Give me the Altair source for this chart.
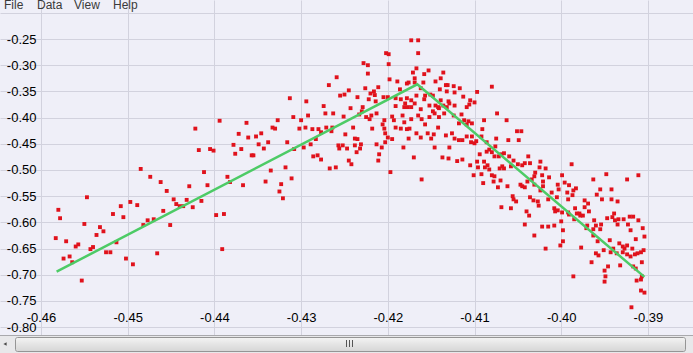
import altair as alt
import pandas as pd

# ---- data ----
samples_left = [
    (-0.4580, -0.576), (-0.4578, -0.592), (-0.4583, -0.630), (-0.4571, -0.636), (-0.4574, -0.669),
    (-0.4567, -0.665), (-0.4564, -0.676), (-0.4560, -0.646), (-0.4557, -0.642), (-0.4550, -0.603),
    (-0.4553, -0.711), (-0.4543, -0.651), (-0.4540, -0.647), (-0.4536, -0.624), (-0.4532, -0.609),
    (-0.4528, -0.617), (-0.4525, -0.657), (-0.4520, -0.657), (-0.4513, -0.638), (-0.4517, -0.584),
    (-0.4508, -0.569), (-0.4505, -0.590), (-0.4497, -0.561), (-0.4489, -0.567), (-0.4502, -0.669),
    (-0.4494, -0.680), (-0.4482, -0.605), (-0.4477, -0.596), (-0.4470, -0.594), (-0.4466, -0.659),
    (-0.4459, -0.578), (-0.4451, -0.605), (-0.4447, -0.556), (-0.4444, -0.565), (-0.4440, -0.569),
    (-0.4436, -0.569), (-0.4432, -0.557), (-0.4425, -0.571), (-0.4415, -0.559), (-0.4398, -0.586),
    (-0.4389, -0.584), (-0.4391, -0.651),
    (-0.4547, -0.552), (-0.4485, -0.498), (-0.4474, -0.513), (-0.4462, -0.523), (-0.4455, -0.540),
    (-0.4429, -0.531), (-0.4412, -0.504), (-0.4408, -0.529), (-0.4422, -0.421), (-0.4418, -0.462),
    (-0.4405, -0.460), (-0.4401, -0.463), (-0.4394, -0.406), (-0.4385, -0.513), (-0.4382, -0.523),
    (-0.4378, -0.452), (-0.4376, -0.469), (-0.4372, -0.431), (-0.4369, -0.460), (-0.4363, -0.410),
    (-0.4361, -0.438), (-0.4367, -0.529),
]

samples_mid = [
    (-0.4173, -0.2525), (-0.4165, -0.2525), (-0.4165, -0.277), (-0.4202, -0.277), (-0.4199, -0.279),
    (-0.4199, -0.298), (-0.4228, -0.296), (-0.4223, -0.300), (-0.4223, -0.316), (-0.4259, -0.323),
    (-0.4268, -0.338), (-0.4313, -0.363), (-0.4294, -0.369), (-0.4274, -0.378), (-0.4272, -0.392),
    (-0.4263, -0.392), (-0.4255, -0.358), (-0.4250, -0.356), (-0.4245, -0.348), (-0.4235, -0.361),
    (-0.4243, -0.382), (-0.4251, -0.398), (-0.4229, -0.380), (-0.4230, -0.388), (-0.4226, -0.344),
    (-0.4220, -0.354), (-0.4216, -0.350), (-0.4215, -0.357), (-0.4222, -0.365), (-0.4214, -0.369),
    (-0.4211, -0.342), (-0.4205, -0.361), (-0.4200, -0.361), (-0.4198, -0.327), (-0.4189, -0.331),
    (-0.4186, -0.346), (-0.4178, -0.335), (-0.4176, -0.333), (-0.4171, -0.314), (-0.4167, -0.306),
    (-0.4169, -0.325), (-0.4169, -0.333), (-0.4158, -0.317), (-0.4153, -0.310), (-0.4159, -0.333),
    (-0.4162, -0.344), (-0.4145, -0.331), (-0.4139, -0.325), (-0.4136, -0.314), (-0.4140, -0.346),
    (-0.4133, -0.338), (-0.4131, -0.338), (-0.4132, -0.350), (-0.4124, -0.340), (-0.4117, -0.344),
    (-0.4123, -0.352), (-0.4151, -0.356), (-0.4148, -0.358), (-0.4158, -0.365), (-0.4157, -0.358),
    (-0.4167, -0.358), (-0.4178, -0.363), (-0.4185, -0.365), (-0.4191, -0.363), (-0.4173, -0.367),
    (-0.4169, -0.373), (-0.4180, -0.373), (-0.4191, -0.378), (-0.4181, -0.380), (-0.4177, -0.380),
    (-0.4173, -0.380), (-0.4162, -0.384), (-0.4165, -0.396), (-0.4152, -0.377), (-0.4148, -0.388),
    (-0.4145, -0.377), (-0.4142, -0.380), (-0.4141, -0.382), (-0.4136, -0.377), (-0.4139, -0.367),
    (-0.4130, -0.369), (-0.4129, -0.373), (-0.4132, -0.380), (-0.4123, -0.377), (-0.4124, -0.396),
    (-0.4135, -0.392), (-0.4141, -0.399), (-0.4146, -0.392), (-0.4152, -0.399), (-0.4161, -0.403),
    (-0.4173, -0.403), (-0.4181, -0.409), (-0.4183, -0.396), (-0.4193, -0.405), (-0.4195, -0.398),
    (-0.4204, -0.405), (-0.4206, -0.413), (-0.4219, -0.396), (-0.4225, -0.399), (-0.4221, -0.403),
    (-0.4213, -0.392), (-0.4240, -0.419), (-0.4218, -0.421), (-0.4204, -0.421), (-0.4191, -0.419),
    (-0.4185, -0.421), (-0.4178, -0.422), (-0.4175, -0.421), (-0.4157, -0.413), (-0.4142, -0.419),
    (-0.4154, -0.430), (-0.4147, -0.432), (-0.4150, -0.440), (-0.4133, -0.434), (-0.4126, -0.430),
    (-0.4123, -0.440), (-0.4118, -0.443), (-0.4118, -0.411), (-0.4203, -0.430), (-0.4200, -0.438),
    (-0.4195, -0.441), (-0.4176, -0.440), (-0.4167, -0.430), (-0.4162, -0.438), (-0.4182, -0.457),
    (-0.4203, -0.447), (-0.4207, -0.457), (-0.4213, -0.451), (-0.4210, -0.470), (-0.4211, -0.482),
    (-0.4197, -0.504), (-0.4170, -0.476), (-0.4146, -0.457), (-0.4137, -0.476), (-0.4130, -0.478),
    (-0.4129, -0.457), (-0.4120, -0.483), (-0.4233, -0.394),
    (-0.4327, -0.405), (-0.4309, -0.399), (-0.4300, -0.405), (-0.4292, -0.396), (-0.4333, -0.419),
    (-0.4330, -0.421), (-0.4352, -0.436), (-0.4346, -0.430), (-0.4349, -0.451), (-0.4343, -0.459),
    (-0.4338, -0.447), (-0.4357, -0.472), (-0.4355, -0.472), (-0.4316, -0.447), (-0.4308, -0.460),
    (-0.4302, -0.421), (-0.4295, -0.419), (-0.4287, -0.422), (-0.4280, -0.422), (-0.4277, -0.428),
    (-0.4271, -0.419), (-0.4264, -0.419), (-0.4265, -0.426), (-0.4283, -0.441), (-0.4289, -0.451),
    (-0.4297, -0.457), (-0.4286, -0.474), (-0.4281, -0.472), (-0.4277, -0.480), (-0.4257, -0.453),
    (-0.4256, -0.459), (-0.4252, -0.453), (-0.4247, -0.459), (-0.4238, -0.440), (-0.4235, -0.441),
    (-0.4238, -0.453), (-0.4231, -0.451), (-0.4232, -0.459), (-0.4236, -0.466), (-0.4249, -0.432),
    (-0.4245, -0.482), (-0.4242, -0.489), (-0.4267, -0.497), (-0.4260, -0.495), (-0.4318, -0.495),
    (-0.4335, -0.501),
    (-0.4341, -0.522), (-0.4323, -0.527), (-0.4311, -0.516), (-0.4325, -0.541), (-0.4321, -0.554),
    (-0.4161, -0.518),
    (-0.4113, -0.360), (-0.4097, -0.351), (-0.4080, -0.341),
]

samples_right = [
    (-0.4105, -0.367), (-0.4100, -0.371), (-0.4106, -0.375), (-0.4109, -0.380), (-0.4115, -0.394),
    (-0.4074, -0.392), (-0.4089, -0.405), (-0.4063, -0.405), (-0.4112, -0.405), (-0.4107, -0.407),
    (-0.4103, -0.411), (-0.4109, -0.413), (-0.4091, -0.422), (-0.4051, -0.426), (-0.4046, -0.426),
    (-0.4049, -0.443), (-0.4061, -0.443), (-0.4075, -0.440), (-0.4092, -0.436), (-0.4103, -0.436),
    (-0.4109, -0.436), (-0.4114, -0.443), (-0.4104, -0.447), (-0.4100, -0.449), (-0.4098, -0.445),
    (-0.4086, -0.447), (-0.4076, -0.455), (-0.4094, -0.470), (-0.4086, -0.465), (-0.4083, -0.461),
    (-0.4080, -0.466), (-0.4077, -0.474), (-0.4072, -0.474), (-0.4069, -0.470), (-0.4066, -0.468),
    (-0.4060, -0.474), (-0.4055, -0.482), (-0.4114, -0.480), (-0.4105, -0.491), (-0.4097, -0.484),
    (-0.4089, -0.484), (-0.4085, -0.491), (-0.4088, -0.495), (-0.4096, -0.495), (-0.4083, -0.499),
    (-0.4071, -0.497), (-0.4068, -0.493), (-0.4066, -0.497), (-0.4058, -0.493), (-0.4050, -0.489),
    (-0.4045, -0.491), (-0.4042, -0.487), (-0.4036, -0.487), (-0.4038, -0.474), (-0.4024, -0.484),
    (-0.4025, -0.495), (-0.4018, -0.497), (-0.4030, -0.505), (-0.3988, -0.489), (-0.4101, -0.510),
    (-0.4092, -0.508), (-0.4080, -0.510), (-0.4077, -0.512), (-0.4070, -0.520), (-0.4078, -0.522),
    (-0.4090, -0.525), (-0.4073, -0.533), (-0.4062, -0.531), (-0.4047, -0.528), (-0.4045, -0.531),
    (-0.4042, -0.533), (-0.4039, -0.522), (-0.4034, -0.518), (-0.4031, -0.512), (-0.4022, -0.510),
    (-0.4014, -0.514), (-0.4021, -0.522), (-0.4031, -0.528), (-0.4021, -0.531), (-0.4024, -0.539),
    (-0.4004, -0.528), (-0.3999, -0.510), (-0.3996, -0.524), (-0.4003, -0.537), (-0.3991, -0.529),
    (-0.3986, -0.539), (-0.3983, -0.535), (-0.3993, -0.543), (-0.3987, -0.548), (-0.4011, -0.543),
    (-0.4005, -0.552), (-0.4015, -0.556), (-0.4027, -0.560), (-0.4032, -0.558), (-0.4036, -0.552),
    (-0.4026, -0.568), (-0.4056, -0.550), (-0.4055, -0.556), (-0.4052, -0.560), (-0.4058, -0.573),
    (-0.4069, -0.571), (-0.4008, -0.573), (-0.3992, -0.556), (-0.3984, -0.573), (-0.3973, -0.558),
    (-0.3969, -0.564), (-0.3973, -0.571), (-0.3963, -0.518), (-0.3955, -0.537), (-0.3959, -0.547),
    (-0.3953, -0.556), (-0.3948, -0.508), (-0.3942, -0.537), (-0.3942, -0.556), (-0.3935, -0.560),
    (-0.3924, -0.518), (-0.3911, -0.510),
    (-0.4040, -0.579), (-0.4037, -0.587), (-0.4042, -0.604), (-0.4007, -0.579), (-0.4004, -0.577),
    (-0.3999, -0.581), (-0.3992, -0.581), (-0.3991, -0.585), (-0.3982, -0.583), (-0.3979, -0.583),
    (-0.3978, -0.587), (-0.3975, -0.587), (-0.3968, -0.579), (-0.4000, -0.598), (-0.3985, -0.594),
    (-0.4022, -0.608), (-0.4015, -0.608), (-0.4008, -0.606), (-0.4031, -0.625), (-0.3998, -0.615),
    (-0.3998, -0.636), (-0.4001, -0.644), (-0.4018, -0.650), (-0.3977, -0.648), (-0.3970, -0.606),
    (-0.3971, -0.611), (-0.3962, -0.596), (-0.3960, -0.606), (-0.3954, -0.604), (-0.3963, -0.613),
    (-0.3955, -0.613), (-0.3963, -0.625), (-0.3947, -0.592), (-0.3941, -0.590), (-0.3939, -0.583),
    (-0.3938, -0.596), (-0.3934, -0.594), (-0.3928, -0.594), (-0.3935, -0.604), (-0.3923, -0.604),
    (-0.3921, -0.589), (-0.3917, -0.589), (-0.3911, -0.596), (-0.3920, -0.615), (-0.3906, -0.611),
    (-0.3904, -0.627), (-0.3914, -0.632), (-0.3958, -0.636), (-0.3944, -0.634), (-0.3951, -0.653),
    (-0.3960, -0.659), (-0.3957, -0.663), (-0.3943, -0.657), (-0.3940, -0.650), (-0.3936, -0.659),
    (-0.3933, -0.640), (-0.3929, -0.646), (-0.3927, -0.650), (-0.3924, -0.644), (-0.3929, -0.657),
    (-0.3924, -0.661), (-0.3920, -0.665), (-0.3918, -0.650), (-0.3915, -0.661), (-0.3912, -0.659),
    (-0.3908, -0.657), (-0.3905, -0.653), (-0.3907, -0.676), (-0.3965, -0.676), (-0.3946, -0.684),
    (-0.3932, -0.682), (-0.3917, -0.684), (-0.3914, -0.688), (-0.3950, -0.692), (-0.3949, -0.703),
    (-0.3950, -0.713), (-0.3986, -0.703), (-0.3913, -0.711), (-0.3908, -0.709), (-0.3907, -0.703),
    (-0.3908, -0.730), (-0.3904, -0.734), (-0.3919, -0.762),
]

fit_x = [-0.4582, -0.4166, -0.3904]
fit_y = [-0.694, -0.3365, -0.704]

x_ticks = [-0.46, -0.45, -0.44, -0.43, -0.42, -0.41, -0.40, -0.39]
y_ticks = [-0.20, -0.25, -0.30, -0.35, -0.40, -0.45, -0.50, -0.55,
           -0.60, -0.65, -0.70, -0.75, -0.80]
menu_items = ["File", "Data", "View", "Help"]

# ---- layout / style ----
W, H = 693, 353
X_DOMAIN = [-0.46473, -0.38480]
Y_DOMAIN = [-0.84924, -0.17557]
BG = "#EFEFF8"
GRID = "#D2D2DE"
FONT = "Liberation Sans"

pts = pd.DataFrame(samples_left + samples_mid + samples_right, columns=["x", "y"])
fit = pd.DataFrame({"x": fit_x, "y": fit_y})

label_expr = "datum.value > -0.22 ? '' : '-' + format(abs(datum.value), '.2f')"

x_enc = alt.X(
    "x:Q",
    scale=alt.Scale(domain=X_DOMAIN, nice=False, zero=False),
    axis=alt.Axis(values=x_ticks, labelExpr=label_expr, title=None, domain=False,
                  ticks=False, tickSize=0, labelPadding=-36, labelBaseline="middle",
                  labelAlign="center", grid=True, gridColor=GRID, gridWidth=1,
                  labelFont=FONT, labelFontSize=13, labelColor="#000000",
                  labelOverlap=False, labelFlush=False, labelBound=False),
)
y_enc = alt.Y(
    "y:Q",
    scale=alt.Scale(domain=Y_DOMAIN, nice=False, zero=False),
    axis=alt.Axis(values=y_ticks, labelExpr=label_expr, title=None, domain=False,
                  ticks=False, tickSize=0, labelPadding=-36, labelBaseline="middle",
                  labelAlign="right", grid=True, gridColor=GRID, gridWidth=1,
                  labelFont=FONT, labelFontSize=13, labelColor="#000000",
                  labelOverlap=False, labelFlush=False, labelBound=False),
)

points = alt.Chart(pts).mark_square(size=15, color="#E0121C", opacity=1).encode(x=x_enc, y=y_enc)
line = alt.Chart(fit).mark_line(color="#4DCB66", strokeWidth=2.5).encode(x=x_enc, y=y_enc)

deco = pd.DataFrame({"k": [0]})
layers = [points, line]

for label, px in zip(menu_items, [4, 37, 74, 113]):
    layers.append(
        alt.Chart(deco).mark_text(text=label, font=FONT, fontSize=12, align="left",
                                  baseline="alphabetic", color="#3A3A3A")
        .encode(x=alt.value(px), y=alt.value(8.5))
    )

# scrollbar
layers.append(alt.Chart(deco).mark_rect(color="#E8E8EA").encode(
    x=alt.value(0), x2=alt.value(W), y=alt.value(335), y2=alt.value(H)))
layers.append(alt.Chart(deco).mark_rule(color="#A9A9AD", strokeWidth=1).encode(
    x=alt.value(0), x2=alt.value(W), y=alt.value(335.5)))
thumb_fill = alt.LinearGradient(
    gradient="linear", x1=0, x2=0, y1=0, y2=1,
    stops=[alt.GradientStop(color="#F4F4F4", offset=0),
           alt.GradientStop(color="#E4E4E4", offset=0.5),
           alt.GradientStop(color="#D6D6D6", offset=1)],
)
layers.append(alt.Chart(deco).mark_rect(fill=thumb_fill, stroke="#959595", strokeWidth=1,
                                        cornerRadius=2).encode(
    x=alt.value(15.5), x2=alt.value(685.5), y=alt.value(337.5), y2=alt.value(351.5)))
for gx in [346.5, 349.5, 352.5]:
    layers.append(alt.Chart(deco).mark_rule(color="#555555", strokeWidth=1).encode(
        x=alt.value(gx), y=alt.value(340), y2=alt.value(347)))
layers.append(alt.Chart(deco).mark_point(shape="triangle-left", filled=True, color="#4A4A4A",
                                         size=14, opacity=1).encode(
    x=alt.value(5), y=alt.value(344)))

chart = alt.layer(*layers).properties(
    width=W, height=H, padding=0, background=BG,
    autosize=alt.AutoSizeParams(type="none"),
).configure_view(fill=BG, stroke=None)

chart.save("out.html", embed_options={"renderer": "svg", "actions": False})
